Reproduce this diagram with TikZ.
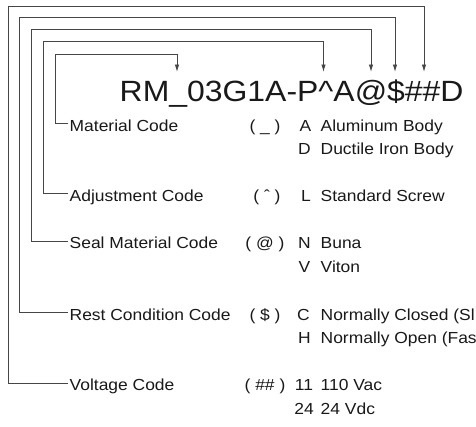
\documentclass[tikz,border=0pt]{standalone}
\usepackage{fontspec}
\setmainfont[FakeStretch=1.09]{Liberation Sans}
\usetikzlibrary{arrows.meta}
\definecolor{linec}{RGB}{70,70,70}
\definecolor{textc}{RGB}{25,25,25}
\begin{document}
\begin{tikzpicture}[x=1pt,y=-1pt,
  lbl/.style={anchor=base west,inner sep=0pt,text=textc,font=\fontsize{16}{18}\selectfont},
  codep/.style={anchor=base,inner sep=0pt,text=textc,font=\fontsize{16}{18}\selectfont},
  conn/.style={draw=linec,line width=0.9pt},
  arr/.style={conn,-{Latex[length=7.5pt,width=4.5pt]}}]
\useasboundingbox (0,0) rectangle (476,426);
\fill[white] (0,0) rectangle (476,426);

\node[anchor=base west,inner sep=0pt,text=textc,font=\fontsize{29.3}{32}\selectfont] (title) at (119.5,101) {RM\_03G1A-P\textasciicircum A@\$\#\#D};

\coordinate (t1) at (177,72);
\coordinate (t2) at (323.5,72);
\coordinate (t3) at (371,72);
\coordinate (t4) at (395,72);
\coordinate (t5) at (424,72);

% labels
\node[lbl] (mat) at (69.5,131) {Material Code};
\node[lbl] (adj) at (69.5,201) {Adjustment Code};
\node[lbl] (seal) at (69.5,248.7) {Seal Material Code};
\node[lbl] (rest) at (69.5,320) {Rest Condition Code};
\node[lbl] (volt) at (69.5,390.7) {Voltage Code};

% code symbols
\node[codep] (c1) at (265,131) {( \_ )};
\node[codep] (c2) at (267,201) {( ˆ )};
\node[codep] (c3) at (265,248.7) {( @ )};
\node[codep] (c4) at (265,320) {( \$ )};
\node[codep] (c5) at (265,390.7) {( \#\# )};

% option codes
\node[codep] (o1a) at (305.5,131) {A};
\node[codep] (o1b) at (304.5,154.3) {D};
\node[codep] (o2a) at (306,201) {L};
\node[codep] (o3a) at (304.5,248.7) {N};
\node[codep] (o3b) at (304.5,272.7) {V};
\node[codep] (o4a) at (303.5,320) {C};
\node[codep] (o4b) at (304.5,343.3) {H};
\node[codep] (o5a) at (304,390.7) {11};
\node[codep] (o5b) at (304,414) {24};

% descriptions
\node[lbl] (d1a) at (320.5,131) {Aluminum Body};
\node[lbl] (d1b) at (320.5,154.3) {Ductile Iron Body};
\node[lbl] (d2a) at (320.5,201) {Standard Screw};
\node[lbl] (d3a) at (320.5,248.7) {Buna};
\node[lbl] (d3b) at (320.5,272.7) {Viton};
\node[lbl] (d4a) at (320.5,320) {Normally Closed (Sl};
\node[lbl] (d4b) at (320.5,343.3) {Normally Open (Fas};
\node[lbl] (d5a) at (320.5,390.7) {110 Vac};
\node[lbl] (d5b) at (320.5,414) {24 Vdc};

% connectors
\draw[arr] ([xshift=-2pt,yshift=7.5pt]mat.base west) -| (55,54) -| (t1);
\draw[arr] ([xshift=-2pt,yshift=7.5pt]adj.base west) -| (43.5,41.5) -| (t2);
\draw[arr] ([xshift=-2pt,yshift=7.5pt]seal.base west) -| (31.5,29.5) -| (t3);
\draw[arr] ([xshift=-2pt,yshift=7.5pt]rest.base west) -| (19.5,17.5) -| (t4);
\draw[arr] ([xshift=-2pt,yshift=7.5pt]volt.base west) -| (8,6) -| (t5);
\end{tikzpicture}
\end{document}
